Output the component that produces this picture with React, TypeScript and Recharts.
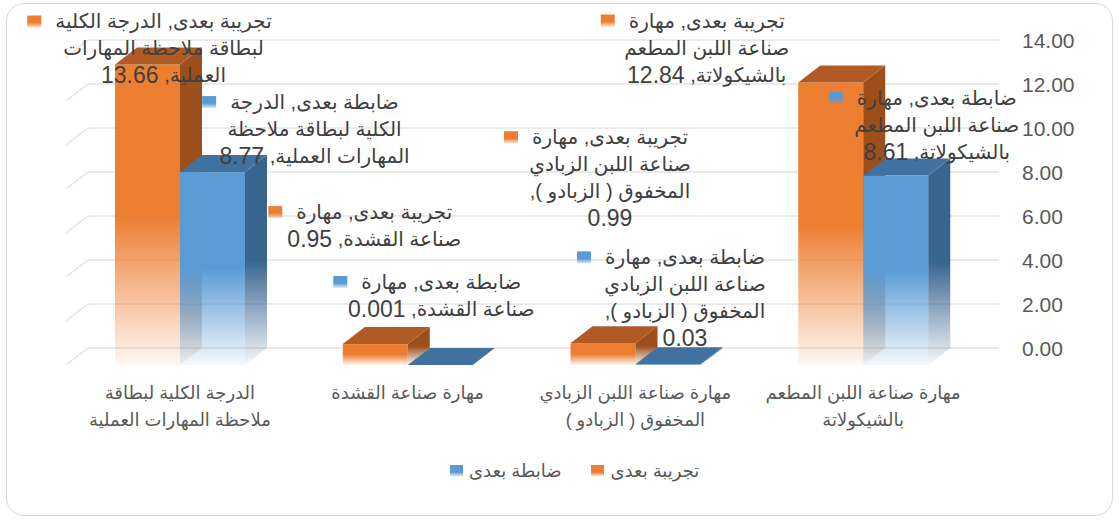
import React from 'react';
import { BarChart, Bar, XAxis, YAxis, CartesianGrid, LabelList, Legend } from 'recharts';

// ---- data ----
const categoryLines: string[][] = [
  ['مهارة صناعة اللبن المطعم', 'بالشيكولاتة'],
  ['مهارة صناعة اللبن الزبادي', 'المخفوق ( الزبادو )'],
  ['مهارة صناعة القشدة'],
  ['الدرجة الكلية لبطاقة', 'ملاحظة المهارات العملية'],
];
const categories = categoryLines.map((l) => l.join(' '));
const seriesNames = ['تجريبة بعدى', 'ضابطة بعدى'];
const experimentalValues = [12.84, 0.99, 0.95, 13.66];
const controlValues = [8.61, 0.03, 0.001, 8.77];
const yTicks = [0, 2, 4, 6, 8, 10, 12, 14];

// words per line of each data label (Excel wrapping)
const experimentalWrap = [[3, 3, 2], [3, 3, 4, 1], [3, 3], [4, 3, 2]];
const controlWrap = [[3, 3, 2], [3, 3, 4, 1], [3, 3], [3, 3, 3]];
// label block offsets from bar front-top-center (dx to text center, dy to first line center)
const experimentalLabelPos = [
  { dx: -124, dy: -62 },
  { dx: 7, dy: -206 },
  { dx: -1, dy: -132 },
  { dx: 16, dy: -43 },
];
const controlLabelPos = [
  { dx: 41, dy: -78 },
  { dx: 17, dy: -107 },
  { dx: 1, dy: -83 },
  { dx: 102, dy: -70 },
];

const data = categories.map((name, i) => ({
  name,
  exp: experimentalValues[i],
  ctl: controlValues[i],
}));

// ---- style ----
const DX = 22;
const DY = 17;
const FONT = "'Liberation Sans', Arial, 'DejaVu Sans', sans-serif";
const LABEL_SIZE = 20;
const NUM_SIZE = 23;
const LINE_H = 27;

const palette = {
  exp: { front: '#ED7D31', top: '#B05B24', side: '#9C4E1B', id: 'o' },
  ctl: { front: '#5B9BD5', top: '#41729F', side: '#386490', id: 'b' },
};

let measureCtx: CanvasRenderingContext2D | null = null;
function textWidth(t: string, size: number) {
  if (!measureCtx) {
    const c = document.createElement('canvas');
    measureCtx = c.getContext('2d');
  }
  if (!measureCtx) return t.length * size * 0.5;
  measureCtx.font = `${size}px ${FONT}`;
  return measureCtx.measureText(t).width;
}

function Bar3D(props: any) {
  const { x, y, width, height, kind } = props;
  const p = (palette as any)[kind];
  const w = width;
  const h = Math.max(height, 0);
  return (
    <g>
      <rect x={x} y={y} width={w} height={h} fill={`url(#${p.id}Front)`} />
      <polygon
        points={`${x + w},${y} ${x + w + DX},${y - DY} ${x + w + DX},${y + h - DY} ${x + w},${y + h}`}
        fill={`url(#${p.id}Side)`}
      />
      <polygon
        points={`${x},${y} ${x + w},${y} ${x + w + DX},${y - DY} ${x + DX},${y - DY}`}
        fill={p.top}
      />
    </g>
  );
}

const isNum = (s: string) => /^[0-9.]+$/.test(s);

function makeLabel(kind: 'exp' | 'ctl') {
  const sIdx = kind === 'exp' ? 0 : 1;
  const wraps = kind === 'exp' ? experimentalWrap : controlWrap;
  const pos = kind === 'exp' ? experimentalLabelPos : controlLabelPos;
  const p = (palette as any)[kind];
  return (props: any) => {
    const { x, y, width, index, value } = props;
    const full = `${seriesNames[sIdx]}, ${categories[index]}, ${value}`;
    const words = full.split(' ');
    const lines: string[][] = [];
    let k = 0;
    wraps[index].forEach((n) => {
      lines.push(words.slice(k, k + n));
      k += n;
    });
    const cx = x + width / 2 + pos[index].dx;
    const cy = y + pos[index].dy;
    const w1 = textWidth(lines[0].join(' '), LABEL_SIZE);
    const sqR = cx - w1 / 2 - 14;
    return (
      <g>
        <rect x={sqR - 14} y={cy - 6} width={14} height={12} fill={`url(#${p.id}Key)`} />
        {lines.map((ws, i) => {
          const txt = ws.filter((w) => !isNum(w)).join(' ');
          const num = ws.find((w) => isNum(w));
          return (
            <text
              key={i}
              x={cx}
              y={cy + i * LINE_H}
              textAnchor="middle"
              dominantBaseline="central"
              direction="rtl"
              fontFamily={FONT}
              fontSize={LABEL_SIZE}
              fill="#404040"
            >
              {txt ? <tspan>{txt + (num ? ' ' : '')}</tspan> : null}
              {num ? <tspan fontSize={NUM_SIZE}>{num}</tspan> : null}
            </text>
          );
        })}
      </g>
    );
  };
}

function GridLine(props: any) {
  const { x1, x2, y1 } = props;
  return (
    <g>
      <line x1={x1} y1={y1} x2={x1 + DX} y2={y1 - DY} stroke="#e3e3e3" strokeWidth={1.5} />
      <line x1={x1 + DX} y1={y1 - DY} x2={x2 + DX} y2={y1 - DY} stroke="#e3e3e3" strokeWidth={1.5} />
    </g>
  );
}

function YTick(props: any) {
  const { x, y, payload } = props;
  return (
    <text x={x + 37} y={y - DY} textAnchor="start" dominantBaseline="central" fontFamily={FONT} fontSize={21} fill="#595959">
      {Number(payload.value).toFixed(2)}
    </text>
  );
}

function XTick(props: any) {
  const { x, y, index } = props;
  const lines = categoryLines[index] || [];
  return (
    <g>
      {lines.map((ln, i) => (
        <text
          key={i}
          x={x}
          y={y + 20 + i * 27}
          textAnchor="middle"
          dominantBaseline="central"
          direction="rtl"
          fontFamily={FONT}
          fontSize={18}
          fill="#595959"
        >
          {ln}
        </text>
      ))}
    </g>
  );
}

function LegendBox() {
  const items = [
    { name: seriesNames[1], p: palette.ctl },
    { name: seriesNames[0], p: palette.exp },
  ];
  return (
    <div style={{ display: 'flex', alignItems: 'center', marginLeft: 450, gap: 30, fontFamily: FONT, fontSize: 18, color: '#595959' }}>
      {items.map((it) => (
        <div key={it.name} style={{ display: 'flex', alignItems: 'center', gap: 6 }}>
          <span
            style={{
              display: 'inline-block',
              width: 13,
              height: 12,
              background: `linear-gradient(${it.p.front} 0%, ${it.p.front} 60%, rgba(255,255,255,0.6) 100%)`,
            }}
          />
          <span dir="rtl">{it.name}</span>
        </div>
      ))}
    </div>
  );
}

function Grad({ id, color, fadeTo }: { id: string; color: string; fadeTo: number }) {
  return (
    <linearGradient id={id} x1="0" y1="0" x2="0" y2="1">
      <stop offset="0" stopColor={color} stopOpacity={1} />
      <stop offset="0.5" stopColor={color} stopOpacity={1} />
      <stop offset="1" stopColor={color} stopOpacity={fadeTo} />
    </linearGradient>
  );
}

export default function App() {
  return (
    <div style={{ position: 'absolute', left: 0, top: 0, width: 1119, height: 521, background: '#fff' }}>
      <div
        style={{
          position: 'absolute',
          left: 6,
          top: 3,
          width: 1107,
          height: 513,
          border: '1.5px solid #d9d9d9',
          borderRadius: 18,
          boxSizing: 'border-box',
        }}
      />
      <div style={{ position: 'absolute', left: 0, top: 0 }}>
        <BarChart
          width={1119}
          height={521}
          data={data}
          margin={{ top: 57, right: 82, bottom: 96, left: 66 }}
          barGap={0}
          barSize={65}
        >
          <defs>
            <Grad id="oFront" color={palette.exp.front} fadeTo={0.06} />
            <Grad id="bFront" color={palette.ctl.front} fadeTo={0.06} />
            <Grad id="oSide" color={palette.exp.side} fadeTo={0.05} />
            <Grad id="bSide" color={palette.ctl.side} fadeTo={0.05} />
            <linearGradient id="oKey" x1="0" y1="0" x2="0" y2="1">
              <stop offset="0" stopColor={palette.exp.front} />
              <stop offset="0.6" stopColor={palette.exp.front} />
              <stop offset="1" stopColor={palette.exp.front} stopOpacity={0.2} />
            </linearGradient>
            <linearGradient id="bKey" x1="0" y1="0" x2="0" y2="1">
              <stop offset="0" stopColor={palette.ctl.front} />
              <stop offset="0.6" stopColor={palette.ctl.front} />
              <stop offset="1" stopColor={palette.ctl.front} stopOpacity={0.2} />
            </linearGradient>
          </defs>
          <CartesianGrid vertical={false} horizontal={(p: any) => <GridLine key={p.key ?? `${p.y1}`} {...p} />} />
          <XAxis dataKey="name" reversed axisLine={false} tickLine={false} interval={0} height={60} tick={<XTick />} />
          <YAxis
            orientation="right"
            domain={[0, 14]}
            ticks={yTicks}
            axisLine={false}
            tickLine={false}
            width={60}
            tick={<YTick />}
          />
          <Legend
            verticalAlign="bottom"
            wrapperStyle={{ position: 'absolute', left: 0, top: 460, width: 1119, height: 0 }}
            content={() => <LegendBox />}
          />
          <Bar dataKey="exp" name={seriesNames[0]} fill={palette.exp.front} isAnimationActive={false} shape={(p: any) => <Bar3D {...p} kind="exp" />}>
            <LabelList dataKey="exp" content={makeLabel('exp')} />
          </Bar>
          <Bar dataKey="ctl" name={seriesNames[1]} fill={palette.ctl.front} isAnimationActive={false} shape={(p: any) => <Bar3D {...p} kind="ctl" />}>
            <LabelList dataKey="ctl" content={makeLabel('ctl')} />
          </Bar>
        </BarChart>
      </div>
    </div>
  );
}
